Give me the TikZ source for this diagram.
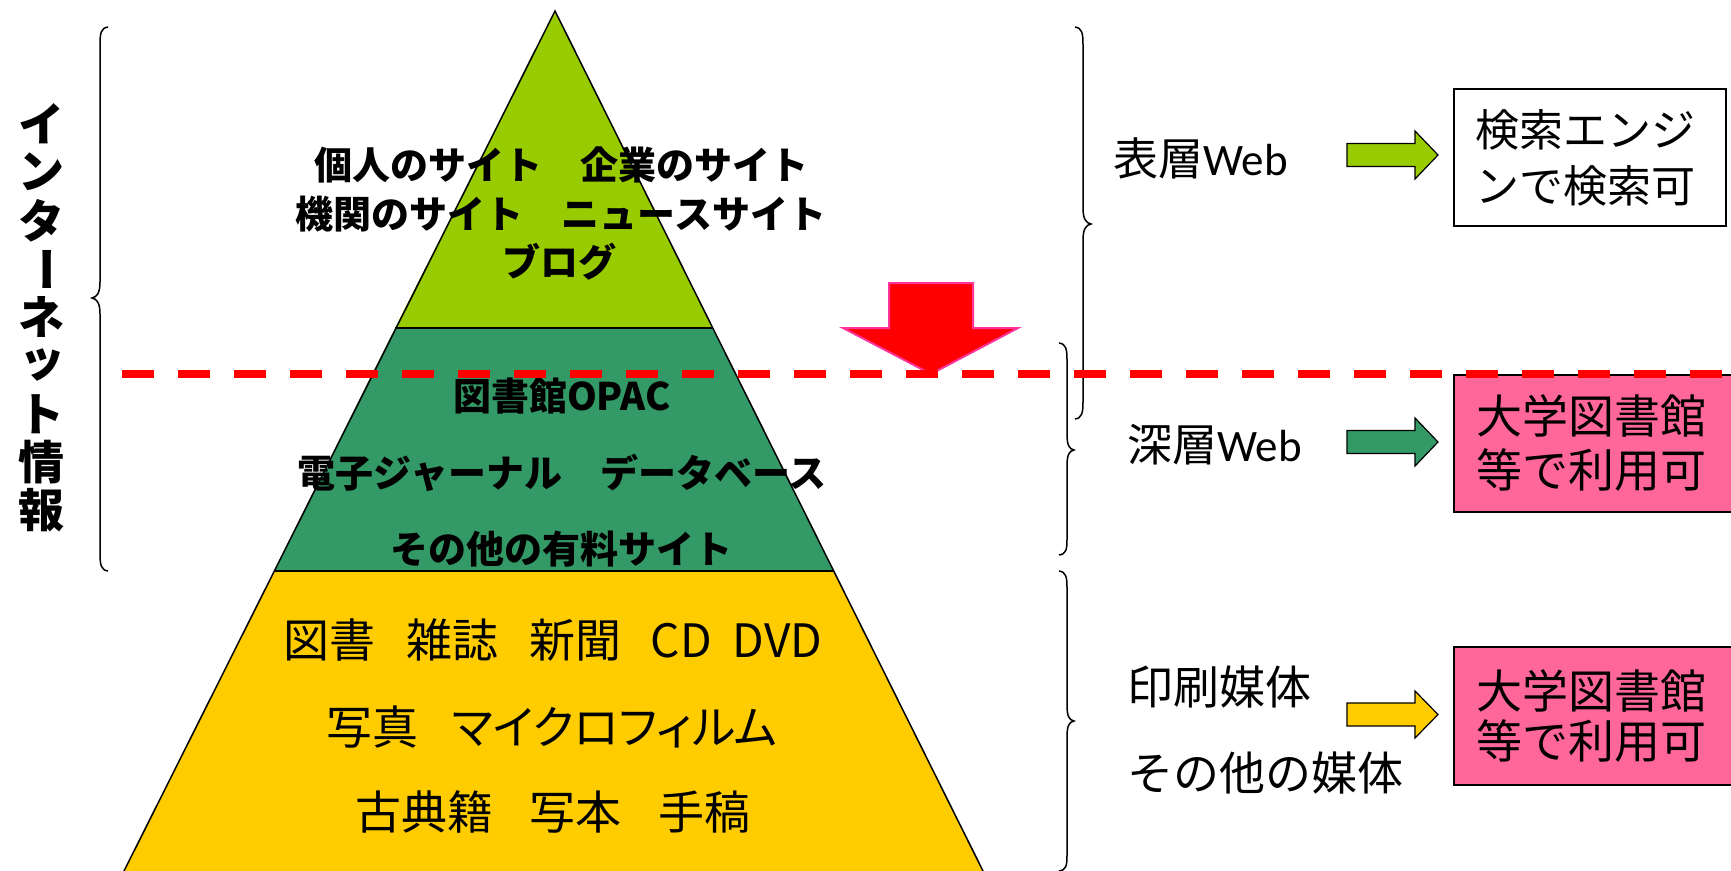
\documentclass[tikz,border=0pt]{standalone}
\usepackage{fontspec}
\setmainfont{Noto Sans CJK JP}
\newfontfamily\jpp{Noto Sans CJK JP}[RawFeature=+palt]
\newfontfamily\carl{Carlito}
\definecolor{lgreen}{HTML}{99CC00}
\definecolor{dgreen}{HTML}{339966}
\definecolor{ygold}{HTML}{FFCC00}
\definecolor{pinkbox}{HTML}{FF6699}
\definecolor{pinkedge}{HTML}{FF3399}
\begin{document}
\begin{tikzpicture}[x=1pt,y=-1pt,
  band/.style={draw=black,line width=1.5pt},
  gtext/.style={font=\fontsize{38}{38}\selectfont\bfseries,inner sep=0pt},
  ytext/.style={font=\fontsize{46}{46}\selectfont\jpp,inner sep=0pt},
  vchar/.style={font=\fontsize{46}{46}\selectfont\bfseries,inner sep=0pt},
  sidelabel/.style={font=\fontsize{45}{45}\selectfont,inner sep=0pt,anchor=west},
  brace/.style={draw=black,line width=1.5pt},
  blockarrow/.style={draw=black,line width=1.2pt},
  infobox/.style={draw=black,line width=2pt,inner ysep=0pt,align=left,anchor=north west}]
\useasboundingbox (0,0) rectangle (1731,870);
\clip (0,0) rectangle (1731,870);

% pyramid bands
\fill[lgreen] (555,11) -- (712,328) -- (395,328) -- cycle;
\fill[dgreen] (395,328) -- (712,328) -- (834,571) -- (274,571) -- cycle;
\fill[ygold] (274,571) -- (834,571) -- (985,875) -- (122,875) -- cycle;
\draw[band] (395,328) -- (712,328);
\draw[band] (274,571) -- (834,571);
\draw[band] (122,875) -- (555,11) -- (985,875);

% pyramid texts
\node[gtext] (g1) at (561,165) {個人のサイト　企業のサイト};
\node[gtext] (g2) at (561,214) {機関のサイト　ニュースサイト};
\node[gtext] (g3) at (559,262) {ブログ};
\node[gtext] (d1) at (562,396) {図書館OPAC};
\node[gtext] (d2) at (562,473) {電子ジャーナル　データベース};
\node[gtext] (d3) at (561,549) {その他の有料サイト};
\node[ytext] (y1) at (553,640) {図書\hspace{31pt}雑誌\hspace{31pt}新聞\hspace{29pt}CD\hspace{21pt}DVD};
\node[ytext] (y2) at (552,727) {写真\hspace{34pt}マイクロフィルム};
\node[ytext] (y3) at (553,812) {古典籍\hspace{37pt}写本\hspace{37pt}手稿};

% vertical label
\node[vchar] (v1) at (41,124) {イ};
\node[vchar] (v2) at (41,172) {ン};
\node[vchar] (v3) at (41,221) {タ};
\node[vchar,rotate=-90] (v4) at (41,269) {ー};
\node[vchar] (v5) at (41,317) {ネ};
\node[vchar] (v6) at (42,365) {ッ};
\node[vchar] (v7) at (41,414) {ト};
\node[vchar] (v8) at (41,462) {情};
\node[vchar] (v9) at (41,510) {報};

% left brace
\draw[brace] (108,27) .. controls (101,28) and (100,33) .. (100,45) -- (100,282)
  .. controls (100,293) and (97,297) .. (92,298) .. controls (97,299) and (100,303) .. (100,314)
  -- (100,553) .. controls (100,565) and (101,570) .. (108,571);

% right braces
\draw[brace] (1075,27) .. controls (1082,28) and (1083,33) .. (1083,45) -- (1083,208)
  .. controls (1083,219) and (1086,223) .. (1091,224) .. controls (1086,225) and (1083,229) .. (1083,240)
  -- (1083,401) .. controls (1083,413) and (1082,418) .. (1075,419);
\draw[brace] (1059,343) .. controls (1066,344) and (1067,349) .. (1067,360) -- (1067,434)
  .. controls (1067,445) and (1069,449) .. (1074,450) .. controls (1069,451) and (1067,455) .. (1067,466)
  -- (1067,539) .. controls (1067,550) and (1066,554) .. (1059,555);
\draw[brace] (1059,571) .. controls (1066,572) and (1067,577) .. (1067,588) -- (1067,705)
  .. controls (1067,716) and (1069,720) .. (1074,721) .. controls (1069,722) and (1067,726) .. (1067,737)
  -- (1067,855) .. controls (1067,866) and (1066,870) .. (1059,871);

% side labels
\node[sidelabel] (s1) at (1113,158) {表層{\carl Web}};
\node[sidelabel] (s2) at (1127,445) {深層{\carl Web}};
\node[sidelabel,font=\fontsize{46}{46}\selectfont] (s3) at (1127,687) {印刷媒体};
\node[sidelabel,font=\fontsize{46}{46}\selectfont] (s4) at (1127,773) {その他の媒体};

% block arrows
\draw[blockarrow,fill=lgreen] (1347,143.5) -- (1415,143.5) -- (1415,131) -- (1438,155) -- (1415,179) -- (1415,166.5) -- (1347,166.5) -- cycle;
\draw[blockarrow,fill=dgreen] (1347,430.5) -- (1415,430.5) -- (1415,418) -- (1438,442) -- (1415,466) -- (1415,453.5) -- (1347,453.5) -- cycle;
\draw[blockarrow,fill=ygold] (1347,703) -- (1415,703) -- (1415,691) -- (1438,714.5) -- (1415,738) -- (1415,726) -- (1347,726) -- cycle;

% boxes
\node[infobox,fill=white,inner xsep=21pt,text width=230pt,minimum height=137pt,
  font=\fontsize{44}{56}\selectfont] (b1) at (1453,88) {検索エンジ\\ンで検索可};
\node[infobox,fill=pinkbox,inner xsep=22pt,text width=300pt,minimum height=137pt,
  font=\fontsize{46}{54}\selectfont] (b2) at (1453,374) {大学図書館\\等で利用可};
\node[infobox,fill=pinkbox,inner xsep=22pt,text width=300pt,minimum height=138pt,
  font=\fontsize{46}{50}\selectfont] (b3) at (1453,646) {大学図書館\\等で利用可};

% red down arrow
\draw[draw=pinkedge,line width=2pt,fill=red,line join=miter]
  (889,283) -- (973,283) -- (973,328) -- (1018,328) -- (931,374) -- (843,328) -- (889,328) -- cycle;

% dashed boundary line
\coordinate (dl) at (122,374);
\coordinate (dr) at (1740,374);
\draw[red,line width=7.7pt,dash pattern=on 32pt off 24pt] (dl) -- (dr);
\end{tikzpicture}
\end{document}
